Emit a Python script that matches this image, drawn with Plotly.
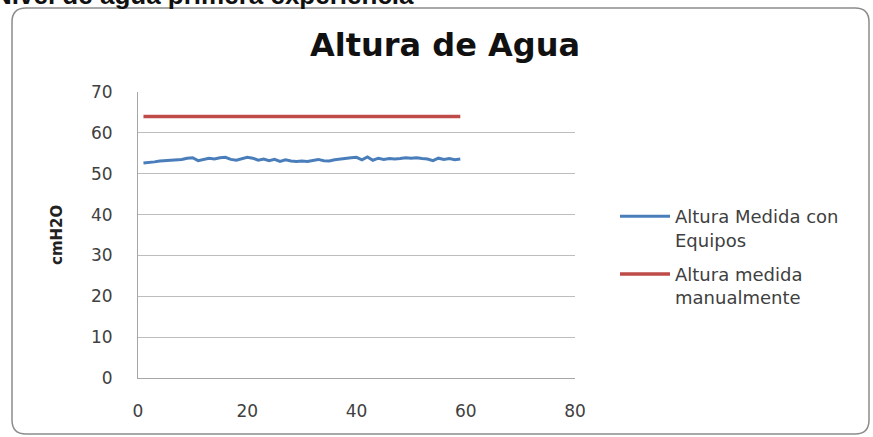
import plotly.graph_objects as go

# Measurement index (sample number) and water heights in cmH2O
sample = list(range(1, 60))
altura_equipos = [
    52.6, 52.7, 52.9, 53.1, 53.2, 53.3, 53.4, 53.5, 53.8, 53.9,
    53.2, 53.5, 53.8, 53.6, 53.9, 54.0, 53.5, 53.3, 53.7, 54.0,
    53.8, 53.3, 53.6, 53.2, 53.5, 53.0, 53.4, 53.1, 53.0, 53.1,
    53.0, 53.3, 53.5, 53.2, 53.1, 53.4, 53.6, 53.7, 53.9, 54.0,
    53.4, 54.1, 53.3, 53.8, 53.5, 53.7, 53.6, 53.7, 53.9, 53.8,
    53.9, 53.7, 53.6, 53.2, 53.8, 53.5, 53.7, 53.4, 53.6,
]
altura_manual = [64.0] * len(sample)

x_ticks = [0, 20, 40, 60, 80]
y_ticks = [0, 10, 20, 30, 40, 50, 60, 70]

W, H = 873, 437
ML, MR, MT, MB = 138, 298, 92, 59
PW, PH = W - ML - MR, H - MT - MB


def px(x):
    return (x - ML) / PW


def py(y):
    return (H - MB - y) / PH


def rounded_box(x0, y0, x1, y1, r):
    rx, ry = r / PW, r / PH
    a, b, c, d = px(x0), py(y0), px(x1), py(y1)
    return (
        f"M{a + rx},{b} L{c - rx},{b} Q{c},{b} {c},{b - ry} "
        f"L{c},{d + ry} Q{c},{d} {c - rx},{d} "
        f"L{a + rx},{d} Q{a},{d} {a},{d + ry} "
        f"L{a},{b - ry} Q{a},{b} {a + rx},{b} Z"
    )


SANS = "DejaVu Sans, sans-serif"
tick_font = dict(family=SANS, size=17, color="#404040")

fig = go.Figure()
fig.add_trace(go.Scatter(
    x=sample, y=altura_equipos, mode="lines",
    name="Altura Medida con<br>Equipos", legendgroup="equipos",
    line=dict(color="#4a7ebb", width=3),
))
fig.add_trace(go.Scatter(
    x=sample, y=altura_manual, mode="lines",
    name="Altura medida<br>manualmente", legendgroup="manual",
    line=dict(color="#be4b48", width=3.5),
))

fig.update_layout(
    width=W, height=H,
    margin=dict(l=ML, r=MR, t=MT, b=MB),
    paper_bgcolor="white", plot_bgcolor="white",
    showlegend=True,
    legend=dict(
        x=px(615), y=py(198), xanchor="left", yanchor="top",
        font=dict(family=SANS, size=18, color="#404040"),
        itemwidth=50, tracegroupgap=8, valign="top",
        bgcolor="rgba(0,0,0,0)",
    ),
    xaxis=dict(
        range=[0, 80], tickvals=x_ticks, showgrid=False, zeroline=False,
        showline=True, linecolor="#a6a6a6", linewidth=1,
        ticks="", ticklabelstandoff=18, tickfont=tick_font,
    ),
    yaxis=dict(
        range=[0, 70], tickvals=y_ticks, showgrid=True, gridcolor="#bdbdbd",
        gridwidth=1, zeroline=False,
        showline=True, linecolor="#a6a6a6", linewidth=1,
        ticks="", ticklabelstandoff=21, tickfont=tick_font,
    ),
    shapes=[dict(
        type="path", xref="paper", yref="paper",
        path=rounded_box(12, 8, 869, 434, 14),
        line=dict(color="#8c8c8c", width=1.5),
        layer="below",
    )],
    annotations=[
        dict(
            text="<b>Nivel de agua primera experiencia</b>",
            xref="paper", yref="paper", x=px(416), y=py(-5),
            xanchor="right", yanchor="middle", showarrow=False,
            font=dict(family="Liberation Sans, Arial, sans-serif", size=26, color="#111111"),
        ),
        dict(
            text="<b>Altura de Agua</b>",
            xref="paper", yref="paper", x=px(445), y=py(45),
            xanchor="center", yanchor="middle", showarrow=False,
            font=dict(family=SANS, size=32, color="#111111"),
        ),
        dict(
            text="<b>cmH2O</b>",
            xref="paper", yref="paper", x=px(57), y=py(235),
            xanchor="center", yanchor="middle", showarrow=False, textangle=-90,
            font=dict(family=SANS, size=15, color="#222222"),
        ),
    ],
)

fig.write_html("out.html")
